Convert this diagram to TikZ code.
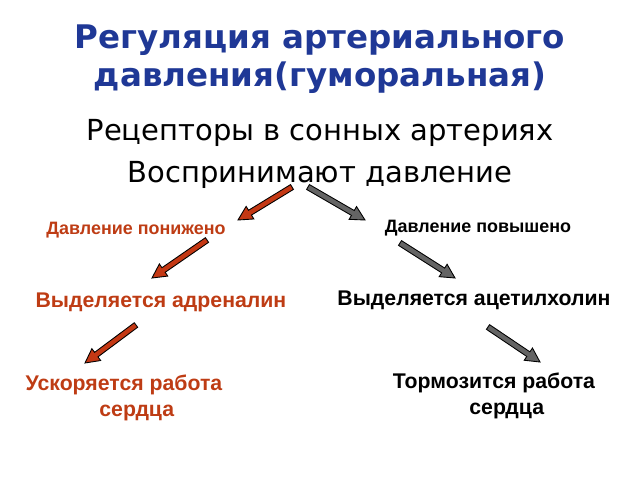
\documentclass[tikz,border=0pt]{standalone}
\usepackage{fontspec}
\setmainfont{Liberation Sans}
\newfontfamily\dejavu{DejaVu Sans}
\usetikzlibrary{calc}
\definecolor{titleblue}{RGB}{31,56,150}
\definecolor{redarrow}{RGB}{196,56,20}
\definecolor{redtext}{RGB}{190,60,20}
\definecolor{greyarrow}{RGB}{100,100,100}
\tikzset{
  lbl/.style={font=\bfseries\fontsize{10.2}{12}\selectfont, align=center},
  biglbl/.style={font=\bfseries\fontsize{12.1}{15}\selectfont, align=center},
}
% block arrow from #2 to #3, filled with #1
\newcommand{\blockarrow}[3]{%
  \coordinate (h) at ($(#3)!8pt!(#2)$);
  \draw[fill=#1, line width=0.5pt, line join=miter]
    ($(#2)!1.6pt!90:(#3)$) -- ($(h)!1.6pt!90:(#3)$) -- ($(h)!4.2pt!90:(#3)$) --
    (#3) -- ($(h)!4.2pt!-90:(#3)$) -- ($(h)!1.6pt!-90:(#3)$) --
    ($(#2)!1.6pt!-90:(#3)$) -- cycle;}
\begin{document}
\begin{tikzpicture}[x=0.02cm, y=-0.02cm]
  \useasboundingbox (0,0) rectangle (640,480);

  % title
  \node[font=\dejavu\bfseries\fontsize{18.5}{21.5}\selectfont, text=titleblue, align=center] (title) at (320,59)
    {Регуляция артериального\\давления(гуморальная)};
  \node[font=\dejavu\fontsize{16.5}{24}\selectfont, align=center] (recept) at (320,154)
    {Рецепторы в сонных артериях\\Воспринимают давление};

  % labels
  \node[lbl, text=redtext] (low) at (136,230) {Давление понижено};
  \node[lbl] (high) at (478,228) {Давление повышено};
  \node[biglbl, text=redtext] (adren) at (161,302) {Выделяется адреналин};
  \node[biglbl] (acet) at (474,300) {Выделяется ацетилхолин};
  \node[biglbl, text=redtext] (fast) at (124,398) {Ускоряется работа\\\hspace*{1.2em}сердца};
  \node[biglbl] (slow) at (494,396) {Тормозится работа\\\hspace*{1.2em}сердца};

  % arrow ends
  \coordinate (a1) at (292,187); \coordinate (b1) at (238,220);
  \coordinate (a2) at (308,187); \coordinate (b2) at (365,220);
  \coordinate (a3) at (207,240); \coordinate (b3) at (152,278);
  \coordinate (a4) at (400,243); \coordinate (b4) at (455,278);
  \coordinate (a5) at (136,325); \coordinate (b5) at (85,363);
  \coordinate (a6) at (488,327); \coordinate (b6) at (540,362);

  \blockarrow{redarrow}{a1}{b1}
  \blockarrow{greyarrow}{a2}{b2}
  \blockarrow{redarrow}{a3}{b3}
  \blockarrow{greyarrow}{a4}{b4}
  \blockarrow{redarrow}{a5}{b5}
  \blockarrow{greyarrow}{a6}{b6}
\end{tikzpicture}
\end{document}
